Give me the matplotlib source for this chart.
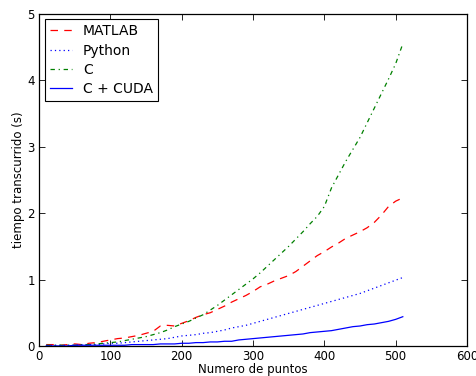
import matplotlib
matplotlib.use("Agg")
import matplotlib.pyplot as plt
import numpy as np

x = list(range(10, 520, 10))

matlab = [0.02, 0.02, 0.01, 0.02, 0.03, 0.02, 0.04, 0.05, 0.07, 0.09,
          0.11, 0.12, 0.14, 0.16, 0.19, 0.22, 0.30, 0.31, 0.30, 0.34,
          0.38, 0.43, 0.47, 0.50, 0.55, 0.60, 0.66, 0.71, 0.76, 0.82,
          0.89, 0.93, 0.98, 1.02, 1.06, 1.12, 1.20, 1.28, 1.36, 1.42,
          1.49, 1.55, 1.62, 1.67, 1.72, 1.78, 1.86, 1.97, 2.10, 2.18,
          2.23]
python = [0.01, 0.01, 0.01, 0.01, 0.01, 0.02, 0.02, 0.02, 0.03, 0.04,
          0.04, 0.05, 0.06, 0.07, 0.08, 0.09, 0.10, 0.11, 0.13, 0.15,
          0.16, 0.17, 0.19, 0.20, 0.22, 0.24, 0.27, 0.29, 0.31, 0.34,
          0.37, 0.40, 0.43, 0.46, 0.49, 0.52, 0.55, 0.58, 0.61, 0.64,
          0.67, 0.70, 0.73, 0.76, 0.79, 0.83, 0.87, 0.91, 0.95, 0.99,
          1.03]
c = [0.01, 0.01, 0.01, 0.01, 0.01, 0.02, 0.02, 0.03, 0.04, 0.05,
     0.06, 0.08, 0.10, 0.12, 0.14, 0.17, 0.20, 0.24, 0.29, 0.33,
     0.37, 0.42, 0.47, 0.54, 0.61, 0.69, 0.77, 0.85, 0.93, 1.01,
     1.10, 1.20, 1.30, 1.40, 1.50, 1.61, 1.72, 1.84, 1.95, 2.10,
     2.38, 2.58, 2.78, 2.96, 3.14, 3.36, 3.58, 3.80, 4.02, 4.25,
     4.55]
cuda = [0.00, 0.00, 0.00, 0.00, 0.01, 0.01, 0.01, 0.01, 0.01, 0.01,
        0.01, 0.01, 0.02, 0.02, 0.02, 0.02, 0.03, 0.03, 0.03, 0.04,
        0.04, 0.05, 0.05, 0.06, 0.06, 0.07, 0.07, 0.09, 0.10, 0.11,
        0.12, 0.13, 0.14, 0.15, 0.16, 0.17, 0.18, 0.20, 0.21, 0.22,
        0.23, 0.25, 0.27, 0.29, 0.30, 0.32, 0.33, 0.35, 0.37, 0.40,
        0.44]

labels = ["MATLAB", "Python", "C", "C + CUDA"]

fig = plt.figure(figsize=(4.77, 3.76), dpi=100)
ax = fig.add_axes([0.082, 0.080, 0.897, 0.883])

lw = 0.9
ax.plot(x, matlab, color="r", lw=lw, linestyle=(0, (6, 5)), label=labels[0])
ax.plot(x, python, color="b", lw=lw, linestyle=(0, (1, 2.5)), label=labels[1])
ax.plot(x, c, color="g", lw=lw, linestyle=(0, (3.5, 3, 1, 3)), label=labels[2])
ax.plot(x, cuda, color="b", lw=lw, linestyle="-", label=labels[3])

ax.set_xlim(0, 600)
ax.set_ylim(0, 5)
ax.set_xticks([0, 100, 200, 300, 400, 500, 600])
ax.set_yticks([0, 1, 2, 3, 4, 5])
ax.tick_params(direction="in", top=True, right=True, labelsize=8.5, length=4, width=0.6, pad=3)
for s in ax.spines.values():
    s.set_linewidth(0.9)

ax.set_xlabel("Numero de puntos", fontsize=8.5, labelpad=0)
ax.set_ylabel("tiempo transcurrido (s)", fontsize=8.5, labelpad=2)

leg = ax.legend(loc="upper left", fontsize=10, fancybox=False, framealpha=1,
                borderaxespad=0.4, handlelength=1.6, handletextpad=0.8,
                labelspacing=0.38, borderpad=0.35)
leg.get_frame().set_edgecolor("black")
leg.get_frame().set_linewidth(0.8)

fig.savefig("out.png", dpi=100, facecolor="white")
